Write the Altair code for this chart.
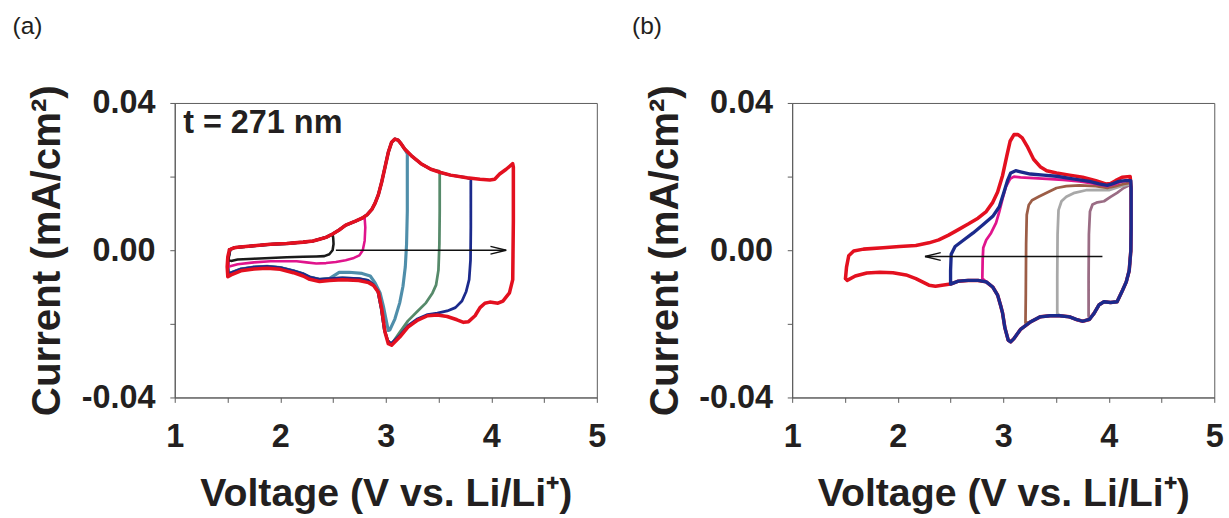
import altair as alt
import pandas as pd

# ---------------- data: panel (a), upper cutoff varied ----------------
# shared anodic (upper) branch
upper_a = [(1.518, 0.0001), (1.565, 0.0007), (1.596, 0.0008), (1.751, 0.0012), (1.906, 0.0016),
           (2.061, 0.0018), (2.217, 0.0022), (2.310, 0.0025), (2.372, 0.0030), (2.434, 0.0035),
           (2.496, 0.0044), (2.558, 0.0055), (2.620, 0.0068), (2.713, 0.0079), (2.775, 0.0087),
           (2.822, 0.0096), (2.868, 0.0111), (2.899, 0.0128), (2.930, 0.0151), (2.962, 0.0186),
           (2.993, 0.0226), (3.024, 0.0266), (3.055, 0.0293), (3.086, 0.0302), (3.117, 0.0299),
           (3.148, 0.0288), (3.179, 0.0275), (3.241, 0.0257), (3.334, 0.0235), (3.427, 0.0220),
           (3.520, 0.0211), (3.613, 0.0204), (3.768, 0.0197), (3.893, 0.0193), (3.986, 0.0191),
           (4.032, 0.0193), (4.079, 0.0207), (4.141, 0.0220), (4.203, 0.0235)]
# cathodic return of the 4.2 V curve
red_a_return = [(4.209, 0.0226), (4.209, 0.0080), (4.203, -0.0080), (4.172, -0.0116), (4.110, -0.0138),
                (4.063, -0.0144), (3.986, -0.0141), (3.939, -0.0144), (3.893, -0.0156), (3.846, -0.0178),
                (3.784, -0.0194), (3.737, -0.0196), (3.675, -0.0189), (3.582, -0.0180), (3.489, -0.0176),
                (3.396, -0.0178), (3.303, -0.0190), (3.210, -0.0209), (3.132, -0.0236), (3.055, -0.0258),
                (3.024, -0.0254), (2.993, -0.0223), (2.962, -0.0160), (2.930, -0.0114), (2.884, -0.0096),
                (2.837, -0.0088), (2.744, -0.0082), (2.589, -0.0080), (2.465, -0.0082), (2.372, -0.0085),
                (2.279, -0.0079), (2.217, -0.0070), (2.124, -0.0061), (1.999, -0.0052), (1.875, -0.0049),
                (1.751, -0.0051), (1.627, -0.0056), (1.534, -0.0067), (1.503, -0.0072), (1.497, -0.0045),
                (1.503, -0.0018), (1.518, 0.0001)]
# shared cathodic branch of the 3.2 / 3.5 / 3.8 V curves (trough to left end)
lower_a = [(3.049, -0.0254), (3.018, -0.0245), (2.986, -0.0216), (2.955, -0.0156), (2.924, -0.0111),
           (2.878, -0.0092), (2.831, -0.0082), (2.744, -0.0077), (2.589, -0.0075), (2.465, -0.0077),
           (2.372, -0.0079), (2.279, -0.0073), (2.217, -0.0064), (2.124, -0.0056), (1.999, -0.0047),
           (1.875, -0.0044), (1.751, -0.0046), (1.627, -0.0051), (1.534, -0.0061), (1.509, -0.0065),
           (1.503, -0.0045), (1.509, -0.0018), (1.525, 0.0001)]
black_a_return = [(2.502, 0.0033), (2.505, 0.0017), (2.496, 0.0000), (2.465, -0.0011), (2.418, -0.0016),
                  (2.341, -0.0017), (2.217, -0.0018), (2.061, -0.0019), (1.906, -0.0021), (1.751, -0.0023),
                  (1.596, -0.0025), (1.534, -0.0029), (1.509, -0.0027), (1.518, -0.0009), (1.518, 0.0001)]
pink_a_return = [(2.800, 0.0087), (2.806, 0.0062), (2.800, 0.0026), (2.782, 0.0000), (2.750, -0.0014),
                 (2.698, -0.0021), (2.620, -0.0027), (2.527, -0.0032), (2.434, -0.0035), (2.341, -0.0036),
                 (2.248, -0.0033), (2.155, -0.0030), (2.030, -0.0030), (1.906, -0.0030), (1.751, -0.0033),
                 (1.596, -0.0038), (1.534, -0.0043), (1.509, -0.0045), (1.509, -0.0023), (1.518, 0.0001)]
teal_a_return = [(3.204, 0.0262), (3.204, 0.0195), (3.204, 0.0106), (3.197, 0.0017), (3.185, -0.0045),
                 (3.163, -0.0098), (3.132, -0.0143), (3.086, -0.0187), (3.039, -0.0216), (3.024, -0.0218),
                 (3.008, -0.0196), (2.977, -0.0152), (2.946, -0.0116), (2.899, -0.0089), (2.853, -0.0070),
                 (2.775, -0.0063), (2.651, -0.0060), (2.558, -0.0060)]
green_a_return = [(3.505, 0.0215), (3.511, 0.0208), (3.511, 0.0106), (3.508, 0.0017), (3.499, -0.0054),
                  (3.477, -0.0094), (3.443, -0.0116), (3.381, -0.0143), (3.303, -0.0165), (3.210, -0.0192),
                  (3.132, -0.0223), (3.070, -0.0249)]
navy_a_return = [(3.806, 0.0193), (3.806, 0.0062), (3.803, -0.0027), (3.790, -0.0080), (3.762, -0.0112),
                 (3.722, -0.0138), (3.660, -0.0156), (3.582, -0.0165), (3.489, -0.0171), (3.396, -0.0175),
                 (3.303, -0.0186), (3.210, -0.0205), (3.132, -0.0232)]
cutoffs_a = {"black": 2.5, "pink": 2.8, "teal": 3.2, "green": 3.5, "navy": 3.8}
arrow_a = [(2.527, 0.0), (4.141, 0.0)]
label_a = [(1.08, 0.0319, "t = 271 nm")]

# ---------------- data: panel (b), lower cutoff varied ----------------
return_b = [(4.212, 0.0167), (4.212, 0.0060), (4.209, -0.0002), (4.194, -0.0055), (4.166, -0.0086),
            (4.132, -0.0108), (4.079, -0.0140), (4.017, -0.0142), (3.955, -0.0140), (3.909, -0.0148),
            (3.862, -0.0171), (3.816, -0.0188), (3.753, -0.0193), (3.691, -0.0188), (3.629, -0.0181),
            (3.536, -0.0178), (3.443, -0.0178), (3.350, -0.0181), (3.257, -0.0195), (3.164, -0.0215),
            (3.102, -0.0240), (3.071, -0.0249), (3.047, -0.0244), (3.016, -0.0211), (2.994, -0.0171),
            (2.978, -0.0153), (2.947, -0.0122), (2.901, -0.0100), (2.839, -0.0086), (2.761, -0.0082),
            (2.668, -0.0082), (2.575, -0.0084), (2.501, -0.0092)]
red_b_upper = [(1.505, -0.0077), (1.515, -0.0046), (1.536, -0.0015), (1.583, -0.0002), (1.676, 0.0003),
               (1.862, 0.0007), (2.017, 0.0010), (2.172, 0.0013), (2.296, 0.0020), (2.389, 0.0028),
               (2.482, 0.0041), (2.575, 0.0056), (2.668, 0.0071), (2.761, 0.0087), (2.839, 0.0105),
               (2.901, 0.0130), (2.947, 0.0158), (2.994, 0.0203), (3.034, 0.0256), (3.065, 0.0296),
               (3.102, 0.0314), (3.140, 0.0314), (3.180, 0.0305), (3.226, 0.0283), (3.288, 0.0247),
               (3.350, 0.0227), (3.412, 0.0216), (3.505, 0.0210), (3.629, 0.0204), (3.753, 0.0198),
               (3.878, 0.0189), (3.971, 0.0180), (4.017, 0.0181), (4.064, 0.0189), (4.126, 0.0198),
               (4.203, 0.0200)]
red_b_tail = [(2.420, -0.0095), (2.358, -0.0098), (2.296, -0.0095), (2.234, -0.0086), (2.172, -0.0077),
              (2.079, -0.0067), (1.955, -0.0061), (1.831, -0.0060), (1.707, -0.0062), (1.598, -0.0070),
              (1.521, -0.0082), (1.505, -0.0077)]
navy_b_upper = [(2.501, -0.0092), (2.501, -0.0055), (2.507, -0.0011), (2.544, 0.0010), (2.622, 0.0027),
                (2.715, 0.0047), (2.808, 0.0069), (2.901, 0.0092), (2.963, 0.0118), (3.003, 0.0154),
                (3.040, 0.0189), (3.071, 0.0210), (3.118, 0.0216), (3.164, 0.0213), (3.257, 0.0207),
                (3.381, 0.0204), (3.505, 0.0201), (3.660, 0.0194), (3.816, 0.0187), (3.909, 0.0180),
                (3.986, 0.0176), (4.033, 0.0180), (4.095, 0.0187), (4.157, 0.0189), (4.209, 0.0189)]
pink_b_upper = [(2.802, -0.0077), (2.805, -0.0028), (2.811, 0.0007), (2.839, 0.0028), (2.885, 0.0047),
                (2.932, 0.0074), (2.963, 0.0105), (2.994, 0.0140), (3.025, 0.0172), (3.065, 0.0194),
                (3.102, 0.0200), (3.164, 0.0198), (3.288, 0.0196), (3.412, 0.0194), (3.567, 0.0191),
                (3.722, 0.0187), (3.878, 0.0180), (3.986, 0.0174), (4.064, 0.0180), (4.126, 0.0187),
                (4.203, 0.0189)]
brown_b_upper = [(3.211, -0.0197), (3.214, -0.0117), (3.217, 0.0016), (3.223, 0.0096), (3.242, 0.0123),
                 (3.273, 0.0136), (3.335, 0.0145), (3.412, 0.0156), (3.505, 0.0169), (3.598, 0.0174),
                 (3.722, 0.0176), (3.878, 0.0174), (3.986, 0.0169), (4.064, 0.0174), (4.141, 0.0180),
                 (4.203, 0.0183)]
gray_b_upper = [(3.512, -0.0171), (3.512, -0.0073), (3.515, 0.0043), (3.524, 0.0109), (3.552, 0.0133),
                (3.598, 0.0145), (3.676, 0.0156), (3.784, 0.0163), (3.909, 0.0164), (4.001, 0.0163),
                (4.095, 0.0172), (4.203, 0.0180)]
mauve_b_upper = [(3.809, -0.0178), (3.809, -0.0073), (3.812, 0.0043), (3.822, 0.0105), (3.846, 0.0124),
                 (3.893, 0.0130), (3.955, 0.0133), (4.017, 0.0145), (4.079, 0.0156), (4.141, 0.0169),
                 (4.203, 0.0178)]
arrow_b = [(3.940, -0.0017), (2.259, -0.0017)]

colors = {"red": "#e3101f", "navy": "#1b2a8c", "green": "#568a6a", "teal": "#4f8eaa",
          "pink": "#e0148c", "black": "#1a1a1a", "brown": "#9c5d46", "gray": "#a8a8a8",
          "mauve": "#9a6c84"}

FONT = "Liberation Sans"
X_TITLE = "Voltage (V vs. Li/Li\u207a)"
Y_TITLE = "Current (mA/cm\u00b2)"


def frame(points):
    return pd.DataFrame({"V": [p[0] for p in points], "I": [p[1] for p in points],
                         "k": list(range(len(points)))})


def enc_x():
    return alt.X("V:Q", scale=alt.Scale(domain=[1, 5], nice=False, zero=False),
                 axis=alt.Axis(values=[1, 1.5, 2, 2.5, 3, 3.5, 4, 4.5, 5],
                               labelExpr="datum.value % 1 == 0 ? format(datum.value, 'd') : ''"),
                 title=X_TITLE)


def enc_y():
    return alt.Y("I:Q", scale=alt.Scale(domain=[-0.04, 0.04], nice=False, zero=False),
                 axis=alt.Axis(values=[-0.04, -0.02, 0, 0.02, 0.04],
                               labelExpr="(datum.value == 0.02 || datum.value == -0.02) ? '' : "
                                         "replace(format(datum.value, '.2f'), '\u2212', '-')"),
                 title=Y_TITLE)


def curve(points, color, width):
    return alt.Chart(frame(points)).mark_line(
        color=colors[color], strokeWidth=width, strokeJoin="round", strokeCap="round"
    ).encode(x=enc_x(), y=enc_y(), order="k:Q")


def arrow(points, head_path):
    line = alt.Chart(frame(points)).mark_line(color="#111111", strokeWidth=1.4).encode(
        x=enc_x(), y=enc_y(), order="k:Q")
    head = alt.Chart(frame(points[-1:])).mark_point(
        shape=head_path, size=256, filled=False, stroke="#111111", strokeWidth=1.4, opacity=1
    ).encode(x=enc_x(), y=enc_y())
    return [line, head]


# ---- panel (a) ----
layers_a = []
for name, ret, width in [("teal", teal_a_return + lower_a[9:], 3.2),
                         ("green", green_a_return + lower_a, 2.8),
                         ("navy", navy_a_return + lower_a, 2.8),
                         ("pink", pink_a_return, 2.6),
                         ("black", black_a_return, 2.6)]:
    pts = [p for p in upper_a if p[0] <= cutoffs_a[name]] + ret
    layers_a.append(curve(pts, name, width))
layers_a.append(curve(upper_a + red_a_return, "red", 3.6))
layers_a += arrow(arrow_a, "M -2 -0.5 L 0 0 L -2 0.5")
text_a = alt.Chart(pd.DataFrame({"V": [t[0] for t in label_a], "I": [t[1] for t in label_a],
                                 "s": [t[2] for t in label_a]})).mark_text(
    align="left", baseline="alphabetic", font=FONT, fontSize=33, fontWeight="bold", color="#231f20"
).encode(x=enc_x(), y=enc_y(), text="s:N")
layers_a.append(text_a)
panel_a = alt.layer(*layers_a).properties(width=430, height=300,
                                          title=alt.TitleParams("(a)", dx=-15))

# ---- panel (b) ----
layers_b = [curve(red_b_upper + return_b + red_b_tail, "red", 3.6)]
for name, up, lo in [("mauve", mauve_b_upper, 3.81), ("gray", gray_b_upper, 3.51),
                     ("brown", brown_b_upper, 3.21), ("pink", pink_b_upper, 2.80)]:
    pts = up + [p for p in return_b if p[0] >= lo] + up[:1]
    layers_b.append(curve(pts, name, 2.8))
layers_b.append(curve(navy_b_upper + return_b, "navy", 3.4))
layers_b += arrow(arrow_b, "M 2 -0.5 L 0 0 L 2 0.5")
panel_b = alt.layer(*layers_b).properties(width=430, height=300,
                                          title=alt.TitleParams("(b)", dx=-13))

chart = alt.hconcat(panel_a, panel_b, spacing=25).properties(
    padding={"left": 12, "top": 8, "right": 5, "bottom": 5}
).configure_view(stroke="#5a5a5a", strokeWidth=1).configure_axis(
    grid=False, domainColor="#5a5a5a", tickColor="#5a5a5a", tickSize=5,
    labelFont=FONT, labelFontWeight="bold", labelFontSize=33, labelColor="#231f20",
    titleFont=FONT, titleFontWeight="bold", titleFontSize=40, titleColor="#231f20",
    labelFlush=False, labelOverlap=False
).configure_axisX(labelPadding=19, titlePadding=21).configure_axisY(
    labelPadding=15, titlePadding=13, titleFontSize=41
).configure_title(
    font=FONT, fontSize=25, fontWeight="normal", anchor="start", frame="bounds",
    color="#231f20", offset=47
)

chart.save("out.html", embed_options={"renderer": "svg", "actions": False})
